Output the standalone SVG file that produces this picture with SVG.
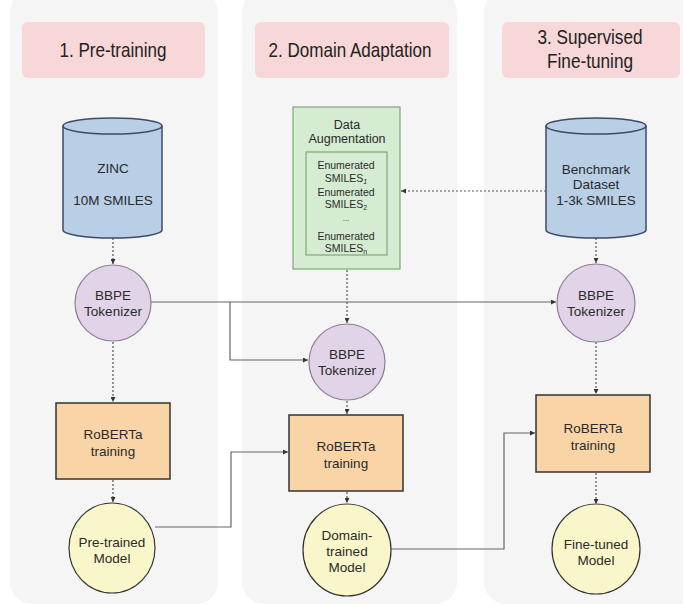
<svg xmlns="http://www.w3.org/2000/svg" width="683" height="605" viewBox="0 0 683 605">
<style>
.panel{fill:#f5f5f5;stroke:none}
.title{fill:#f7d7d7;stroke:none}
.tt{font-family:"Liberation Sans",Arial,sans-serif;font-size:21px;fill:#222;text-anchor:middle}
.t{font-family:"Liberation Sans",Arial,sans-serif;font-size:13.5px;fill:#2a2a2a;text-anchor:middle}
.ts{font-family:"Liberation Sans",Arial,sans-serif;font-size:10.5px;fill:#2a2a2a;text-anchor:middle}
.cyl{fill:#b9cfe6;stroke:#3f4a66;stroke-width:1.5}
.tok{fill:#e2d4e8;stroke:#8c7d93;stroke-width:1.2}
.rob{fill:#f9d4a6;stroke:#333;stroke-width:1.5}
.mod{fill:#f9f6c9;stroke:#333;stroke-width:1.2}
.aug{fill:#d6ecd2;stroke:#7fa876;stroke-width:1.2}
.dot{fill:none;stroke:#555;stroke-width:1.2;stroke-dasharray:2 2;marker-end:url(#ah)}
.sol{fill:none;stroke:#666;stroke-width:1.2;marker-end:url(#ah)}
</style>
<defs>
<marker id="ah" viewBox="0 0 6 6" refX="6" refY="3" markerWidth="5" markerHeight="5" markerUnits="userSpaceOnUse" orient="auto">
<path d="M0,0 L6,3 L0,6 z" fill="#333"/>
</marker>
</defs>
<rect width="683" height="605" fill="#ffffff"/>
<g id="panels">
<rect class="panel" x="10" y="-10" width="208" height="614" rx="22"/>
<rect class="panel" x="242" y="-10" width="215" height="614" rx="22"/>
<rect class="panel" x="484" y="-10" width="230" height="614" rx="22"/>
</g>
<g id="title1"><rect class="title" x="22" y="22" width="183" height="56" rx="6"/><text class="tt" x="113" y="57" textLength="107" lengthAdjust="spacingAndGlyphs">1. Pre-training</text></g>
<g id="title2"><rect class="title" x="255" y="22" width="194" height="56" rx="6"/><text class="tt" x="350" y="57" textLength="163" lengthAdjust="spacingAndGlyphs">2. Domain Adaptation</text></g>
<g id="title3"><rect class="title" x="502" y="22" width="178" height="56" rx="6"/><text class="tt" x="590" y="44" textLength="105" lengthAdjust="spacingAndGlyphs">3. Supervised</text><text class="tt" x="590" y="68" textLength="86" lengthAdjust="spacingAndGlyphs">Fine-tuning</text></g>

<g id="connectors">
<path class="dot" d="M113,238 L113,264"/>
<path class="dot" d="M113,342 L113,402"/>
<path class="dot" d="M113,480 L113,502"/>
<path class="dot" d="M347,270 L347,323"/>
<path class="dot" d="M347,401 L347,414"/>
<path class="dot" d="M347,492 L347,503"/>
<path class="dot" d="M596,238 L596,263"/>
<path class="dot" d="M546,191 L401,191"/>
<path class="dot" d="M596,342 L596,394"/>
<path class="dot" d="M596,473 L596,504"/>
<path class="sol" d="M151,302 L556,302"/>
<path class="sol" d="M230,302 L230,360 L308,360"/>
<path class="sol" d="M155,527 L231,527 L231,452 L288,452"/>
<path class="sol" d="M391,549 L504,549 L504,433 L535,433"/>
</g>

<g id="zinc">
<path class="cyl" d="M63,126 L63,230 A49.5,8 0 0 0 162,230 L162,126"/>
<ellipse class="cyl" cx="112.5" cy="126" rx="49.5" ry="8"/>
<text class="t" x="113" y="173">ZINC</text>
<text class="t" x="113" y="205">10M SMILES</text>
</g>
<g id="benchmark">
<path class="cyl" d="M546,126 L546,230 A50,8 0 0 0 646,230 L646,126"/>
<ellipse class="cyl" cx="596" cy="126" rx="50" ry="8"/>
<text class="t" x="596" y="174">Benchmark</text>
<text class="t" x="596" y="189">Dataset</text>
<text class="t" x="596" y="205">1-3k SMILES</text>
</g>
<g id="augmentation">
<rect class="aug" x="293" y="107" width="107" height="162"/>
<text class="t" x="347" y="129" style="font-size:12.5px">Data</text>
<text class="t" x="347" y="143" style="font-size:12.5px">Augmentation</text>
<rect class="aug" x="306" y="152" width="81" height="103"/>
<text class="ts" x="346" y="169">Enumerated</text>
<text class="ts" x="346" y="182">SMILES<tspan font-size="7" font-style="italic" dy="2">1</tspan></text>
<text class="ts" x="346" y="196">Enumerated</text>
<text class="ts" x="346" y="208">SMILES<tspan font-size="7" dy="2">2</tspan></text>
<text class="ts" x="346" y="221" style="font-size:8px">...</text>
<text class="ts" x="346" y="240">Enumerated</text>
<text class="ts" x="346" y="252">SMILES<tspan font-size="7" dy="2">n</tspan></text>
</g>
<g id="tok1"><circle class="tok" cx="113" cy="303" r="38"/><text class="t" x="113" y="300">BBPE</text><text class="t" x="113" y="316">Tokenizer</text></g>
<g id="tok2"><circle class="tok" cx="347" cy="362" r="38"/><text class="t" x="347" y="359">BBPE</text><text class="t" x="347" y="375">Tokenizer</text></g>
<g id="tok3"><circle class="tok" cx="596" cy="303" r="39"/><text class="t" x="596" y="300">BBPE</text><text class="t" x="596" y="316">Tokenizer</text></g>
<g id="rob1"><rect class="rob" x="56" y="403" width="114" height="76"/><text class="t" x="113" y="439">RoBERTa</text><text class="t" x="113" y="456">training</text></g>
<g id="rob2"><rect class="rob" x="289" y="415" width="114" height="76"/><text class="t" x="346" y="451">RoBERTa</text><text class="t" x="346" y="468">training</text></g>
<g id="rob3"><rect class="rob" x="536" y="395" width="114" height="77"/><text class="t" x="593" y="433">RoBERTa</text><text class="t" x="593" y="450">training</text></g>
<g id="mod1"><ellipse class="mod" cx="112" cy="548" rx="43" ry="45"/><text class="t" x="112" y="547">Pre-trained</text><text class="t" x="112" y="563">Model</text></g>
<g id="mod2"><ellipse class="mod" cx="347" cy="550" rx="44" ry="46"/><text class="t" x="347" y="540">Domain-</text><text class="t" x="347" y="556">trained</text><text class="t" x="347" y="572">Model</text></g>
<g id="mod3"><ellipse class="mod" cx="596" cy="549" rx="44" ry="45"/><text class="t" x="596" y="549">Fine-tuned</text><text class="t" x="596" y="565">Model</text></g>
</svg>
